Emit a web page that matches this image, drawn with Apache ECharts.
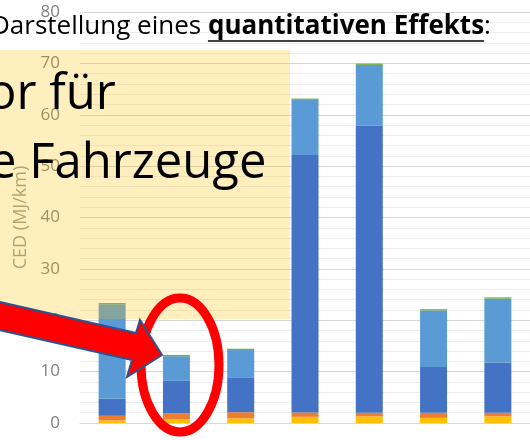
<!DOCTYPE html>
<html>
<head>
<meta charset="utf-8">
<title>CED</title>
<script src="https://cdn.jsdelivr.net/npm/echarts@6/dist/echarts.min.js"></script>
<style>
  html, body { margin: 0; padding: 0; background: #fff; }
  #chart { width: 530px; height: 440px; }
</style>
</head>
<body>
<div id="chart"></div>
<script>
var categories = ['1', '2', '3', '4', '5', '6', '7'];
var yellowPart = [0.5, 0.7, 0.9, 1.2, 1.3, 1.0, 1.3];
var orangePart = [0.9, 1.2, 1.2, 0.85, 0.7, 1.0, 0.7];
var darkBluePart = [3.3, 6.3, 6.8, 50.1, 55.9, 8.9, 9.8];
var lightBluePart = [18.4, 4.8, 5.3, 10.75, 11.8, 11.0, 12.4];
var greenPart = [0.25, 0.25, 0.25, 0.25, 0.25, 0.25, 0.25];
var yTicks = [0, 10, 20, 30, 40, 50, 60, 70, 80];

var FONT = '"Open Sans", "Noto Sans", sans-serif';

var chart = echarts.init(document.getElementById('chart'));

// Breite der Titelteile messen, damit Unterstreichung passt
var ctx = document.createElement('canvas').getContext('2d');
function textW(str, font) {
  ctx.font = font;
  return ctx.measureText(str).width;
}
var titleSize = 26;
var fNormal = titleSize + 'px ' + FONT;
var fBold = 'bold ' + titleSize + 'px ' + FONT;
var t1 = 'Darstellung eines ';
var t2 = 'quantitativen Effekts';
var t3 = ':';
var titleX = -9;
var titleY = 40;
var w1 = textW(t1, fNormal);
var w2 = textW(t2, fBold);

function mkSeries(name, data, color) {
  return {
    name: name,
    type: 'bar',
    stack: 'ced',
    barWidth: 27,
    data: data,
    itemStyle: { color: color },
    emphasis: { disabled: true }
  };
}

var option = {
  animation: false,
  textStyle: { fontFamily: FONT },
  grid: { left: 80, right: -10, top: 12, bottom: 17, containLabel: false },
  xAxis: {
    type: 'category',
    data: categories,
    axisLine: { show: true, lineStyle: { color: '#D9D9D9', width: 1 } },
    axisTick: { show: false },
    axisLabel: { show: false }
  },
  yAxis: {
    type: 'value',
    min: 0,
    max: yTicks[yTicks.length - 1],
    interval: 10,
    name: 'CED (MJ/km)',
    nameLocation: 'middle',
    nameGap: 50,
    nameTextStyle: { color: '#9a9a9a', fontSize: 18, fontFamily: FONT },
    axisLine: { show: false },
    axisTick: { show: false },
    axisLabel: { color: '#808080', fontSize: 17, margin: 20, fontFamily: FONT },
    splitLine: { lineStyle: { color: '#D6D6D6', width: 1 } },
    minorTick: { show: false, splitNumber: 5 },
    minorSplitLine: { show: true, lineStyle: { color: '#EDEDED', width: 1 } }
  },
  series: [
    mkSeries('S1', yellowPart, '#FFC000'),
    mkSeries('S2', orangePart, '#ED7D31'),
    mkSeries('S3', darkBluePart, '#4472C4'),
    mkSeries('S4', lightBluePart, '#5B9BD5'),
    mkSeries('S5', greenPart, '#70AD47')
  ],
  graphic: [
    // halbtransparentes gelbes Textfeld
    {
      type: 'rect', z: 50,
      shape: { x: -2, y: 50, width: 292, height: 269 },
      style: { fill: 'rgba(255,192,0,0.25)' }
    },
    {
      type: 'text', z: 60, x: -13, y: 120,
      style: { text: 'or für', font: '49px ' + FONT, fill: '#000', verticalAlign: 'bottom' }
    },
    {
      type: 'text', z: 60, x: -11, y: 189,
      style: { text: 'e Fahrzeuge', font: '49px ' + FONT, fill: '#000', verticalAlign: 'bottom' }
    },
    // Titel
    {
      type: 'text', z: 60, x: titleX, y: titleY,
      style: { text: t1, font: fNormal, fill: '#000', verticalAlign: 'bottom' }
    },
    {
      type: 'text', z: 60, x: titleX + w1, y: titleY,
      style: { text: t2, font: fBold, fill: '#000', verticalAlign: 'bottom' }
    },
    {
      type: 'text', z: 60, x: titleX + w1 + w2, y: titleY,
      style: { text: t3, font: fNormal, fill: '#000', verticalAlign: 'bottom' }
    },
    {
      type: 'line', z: 60,
      shape: { x1: titleX + w1, y1: titleY + 1, x2: titleX + w1 + w2, y2: titleY + 1 },
      style: { stroke: '#000', lineWidth: 1.5 }
    },
    // roter Kreis
    {
      type: 'ellipse', z: 70,
      shape: { cx: 180, cy: 365, rx: 39, ry: 67 },
      style: { fill: null, stroke: '#FF0000', lineWidth: 9 }
    },
    // roter Pfeil
    {
      type: 'polygon', z: 80,
      shape: {
        points: [[-5, 301], [136, 333], [140, 320], [162, 355], [127, 377], [132, 360], [-5, 329]]
      },
      style: { fill: '#FF0000', stroke: '#2F528F', lineWidth: 2, lineJoin: 'miter' }
    }
  ]
};

chart.setOption(option);
</script>
</body>
</html>
